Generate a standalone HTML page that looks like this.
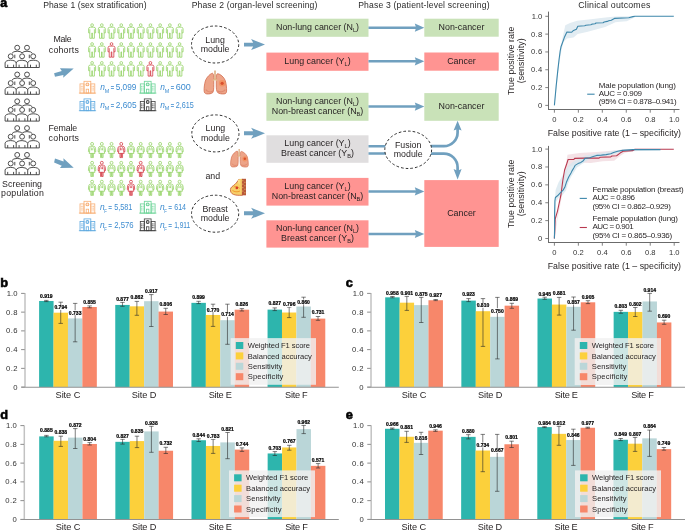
<!DOCTYPE html><html><head><meta charset="utf-8"><style>html,body{margin:0;padding:0;background:#fff;overflow:hidden}svg{display:block;will-change:transform}text{font-family:"Liberation Sans",sans-serif}</style></head><body>
<svg width="685" height="530" viewBox="0 0 685 530">
<rect width="685" height="530" fill="#fff"/>
<defs>
<symbol id="male" viewBox="0 0 8 16" overflow="visible"><g fill="none" stroke="currentColor" stroke-width="0.75" stroke-linejoin="round"><circle cx="4" cy="2.1" r="1.35"/><path d="M2.3,4.2H5.7Q7.4,4.2 7.5,5.9V9.9H6.3V15.3H4.3V10H3.7V15.3H1.7V9.9H0.5V5.9Q0.6,4.2 2.3,4.2Z"/><path d="M1.7,6.3V9.9M6.3,6.3V9.9"/></g></symbol>
<symbol id="female" viewBox="0 0 8 16" overflow="visible"><g fill="none" stroke="currentColor" stroke-width="0.75" stroke-linejoin="round"><circle cx="3.9" cy="1.9" r="1.45"/><path d="M2.3,4.3H5.5Q7.1,4.4 7.3,6.3L7.6,9.6H6.4L6.8,11.4H1.0L1.4,9.6H0.2L0.5,6.3Q0.7,4.4 2.3,4.3Z"/><path d="M1.6,6.2L1.4,9.6M6.2,6.2L6.4,9.6M2.6,5.2Q3.6,7 3.2,8.3M5.2,5.2Q4.2,7 4.6,8.3"/><path d="M2.6,11.4V15.6H3.6V11.4M4.2,11.4V15.6H5.2V11.4"/></g></symbol>
<symbol id="hosp" viewBox="0 0 17 13" overflow="visible"><g fill="none" stroke="currentColor" stroke-width="0.8"><path d="M0,12.3H17.2"/><rect x="5.1" y="0.5" width="6.8" height="11.8"/><rect x="1.1" y="3.1" width="4" height="9.2"/><rect x="11.9" y="3.1" width="4" height="9.2"/><rect x="7.3" y="8.4" width="2.4" height="3.9"/><path d="M2.4,5V10.6M3.9,5V10.6M13.2,5V10.6M14.7,5V10.6" stroke-dasharray="1.1 0.7"/></g><circle cx="8.5" cy="3.6" r="1.9" fill="currentColor"/><path d="M8.5,2.6V4.6M7.5,3.6H9.5" stroke="#fff" stroke-width="0.6"/></symbol>
<symbol id="grp" viewBox="0 0 36 24" overflow="visible"><g fill="none" stroke="#444" stroke-width="0.95" stroke-linejoin="round"><circle cx="12.7" cy="3.0" r="2.45"/><circle cx="22.5" cy="3.0" r="2.45"/><path d="M7.5,8.6Q8.6,6.6 12.7,6.5Q16.2,6.6 17.6,8.1Q19,6.6 22.5,6.5Q26.6,6.6 27.9,8.6"/><circle cx="6.2" cy="11.6" r="2.45"/><circle cx="17.6" cy="11.6" r="2.45"/><circle cx="28.7" cy="11.6" r="2.45"/><path d="M10.3,10V13.5M24.8,10V13.5"/><path d="M0.6,22.8V18.2Q1,15.6 6.2,15.5Q11,15.6 11.7,18.2Q12.3,15.6 17.6,15.5Q22.4,15.6 23.2,18.2Q23.8,15.6 28.7,15.5Q34,15.6 34.8,18.2V22.8Z"/><path d="M11.7,18.2V22.8M23.2,18.2V22.8M3.2,20V22.8M9.1,20V22.8M14.6,20V22.8M20.4,20V22.8M26,20V22.8M31.8,20V22.8"/></g></symbol>
<symbol id="thick" viewBox="0 0 21 12" overflow="visible"><path d="M0,4.05H9.2L7.1,0.5L21,6L7.1,11.5L9.2,7.95H0Z" fill="#70a0bf"/></symbol>
</defs>
<text x="0.20" y="6.80" font-size="12.5" font-weight="bold" fill="#000" stroke="#000" stroke-width="0.6">a</text>
<text x="43.20" y="7.60" font-size="8.6" fill="#2a2a2a" textLength="103.30" lengthAdjust="spacing">Phase 1 (sex stratification)</text>
<use href="#grp" x="4.5" y="44.70" width="36" height="24"/>
<use href="#grp" x="4.5" y="71.50" width="36" height="24"/>
<use href="#grp" x="4.5" y="98.30" width="36" height="24"/>
<use href="#grp" x="4.5" y="125.10" width="36" height="24"/>
<use href="#grp" x="4.5" y="151.90" width="36" height="24"/>
<text x="2.10" y="186.80" font-size="8.8" fill="#231f20" textLength="39.90" lengthAdjust="spacing">Screening</text>
<text x="1.10" y="195.60" font-size="8.8" fill="#231f20" textLength="42.80" lengthAdjust="spacing">population</text>
<text x="53.50" y="42.10" font-size="8.8" fill="#231f20" textLength="18.10" lengthAdjust="spacing">Male</text>
<text x="48.80" y="52.50" font-size="8.8" fill="#231f20" textLength="30.10" lengthAdjust="spacing">cohorts</text>
<text x="48.60" y="130.70" font-size="8.8" fill="#231f20" textLength="28.50" lengthAdjust="spacing">Female</text>
<text x="48.60" y="141.10" font-size="8.8" fill="#231f20" textLength="30.40" lengthAdjust="spacing">cohorts</text>
<path d="M54.1,73.3L61.8,71L59.9,68.2L73.7,68.4L63.2,77.8L63.4,75L55,76.8Z" fill="#70a0bf"/>
<path d="M55,158.6L63.6,161.4L63.4,158.2L73.7,167.7L59.9,168L61.8,165.7L54.1,162.4Z" fill="#70a0bf"/>
<use href="#male" x="88.10" y="23.00" width="8" height="16" color="#8fd05e"/>
<use href="#male" x="97.82" y="23.00" width="8" height="16" color="#8fd05e"/>
<use href="#male" x="107.54" y="23.00" width="8" height="16" color="#8fd05e"/>
<use href="#male" x="117.26" y="23.00" width="8" height="16" color="#8fd05e"/>
<use href="#male" x="126.98" y="23.00" width="8" height="16" color="#8fd05e"/>
<use href="#male" x="136.70" y="23.00" width="8" height="16" color="#8fd05e"/>
<use href="#male" x="146.42" y="23.00" width="8" height="16" color="#8fd05e"/>
<use href="#male" x="156.14" y="23.00" width="8" height="16" color="#8fd05e"/>
<use href="#male" x="165.86" y="23.00" width="8" height="16" color="#8fd05e"/>
<use href="#male" x="175.58" y="23.00" width="8" height="16" color="#8fd05e"/>
<use href="#male" x="88.10" y="41.90" width="8" height="16" color="#8fd05e"/>
<use href="#male" x="97.82" y="41.90" width="8" height="16" color="#8fd05e"/>
<use href="#male" x="107.54" y="41.90" width="8" height="16" color="#d2323c"/>
<use href="#male" x="117.26" y="41.90" width="8" height="16" color="#8fd05e"/>
<use href="#male" x="126.98" y="41.90" width="8" height="16" color="#8fd05e"/>
<use href="#male" x="136.70" y="41.90" width="8" height="16" color="#8fd05e"/>
<use href="#male" x="146.42" y="41.90" width="8" height="16" color="#8fd05e"/>
<use href="#male" x="156.14" y="41.90" width="8" height="16" color="#8fd05e"/>
<use href="#male" x="165.86" y="41.90" width="8" height="16" color="#8fd05e"/>
<use href="#male" x="175.58" y="41.90" width="8" height="16" color="#8fd05e"/>
<use href="#male" x="88.10" y="60.80" width="8" height="16" color="#8fd05e"/>
<use href="#male" x="97.82" y="60.80" width="8" height="16" color="#8fd05e"/>
<use href="#male" x="107.54" y="60.80" width="8" height="16" color="#8fd05e"/>
<use href="#male" x="117.26" y="60.80" width="8" height="16" color="#8fd05e"/>
<use href="#male" x="126.98" y="60.80" width="8" height="16" color="#8fd05e"/>
<use href="#male" x="136.70" y="60.80" width="8" height="16" color="#8fd05e"/>
<use href="#male" x="146.42" y="60.80" width="8" height="16" color="#d2323c"/>
<use href="#male" x="156.14" y="60.80" width="8" height="16" color="#8fd05e"/>
<use href="#male" x="165.86" y="60.80" width="8" height="16" color="#8fd05e"/>
<use href="#male" x="175.58" y="60.80" width="8" height="16" color="#8fd05e"/>
<use href="#female" x="88.20" y="142.00" width="8" height="16" color="#8fd05e"/>
<use href="#female" x="97.92" y="142.00" width="8" height="16" color="#8fd05e"/>
<use href="#female" x="107.64" y="142.00" width="8" height="16" color="#8fd05e"/>
<use href="#female" x="117.36" y="142.00" width="8" height="16" color="#d2323c"/>
<use href="#female" x="127.08" y="142.00" width="8" height="16" color="#8fd05e"/>
<use href="#female" x="136.80" y="142.00" width="8" height="16" color="#8fd05e"/>
<use href="#female" x="146.52" y="142.00" width="8" height="16" color="#8fd05e"/>
<use href="#female" x="156.24" y="142.00" width="8" height="16" color="#8fd05e"/>
<use href="#female" x="165.96" y="142.00" width="8" height="16" color="#8fd05e"/>
<use href="#female" x="175.68" y="142.00" width="8" height="16" color="#8fd05e"/>
<use href="#female" x="88.20" y="160.90" width="8" height="16" color="#8fd05e"/>
<use href="#female" x="97.92" y="160.90" width="8" height="16" color="#d2323c"/>
<use href="#female" x="107.64" y="160.90" width="8" height="16" color="#8fd05e"/>
<use href="#female" x="117.36" y="160.90" width="8" height="16" color="#8fd05e"/>
<use href="#female" x="127.08" y="160.90" width="8" height="16" color="#8fd05e"/>
<use href="#female" x="136.80" y="160.90" width="8" height="16" color="#d2323c"/>
<use href="#female" x="146.52" y="160.90" width="8" height="16" color="#8fd05e"/>
<use href="#female" x="156.24" y="160.90" width="8" height="16" color="#8fd05e"/>
<use href="#female" x="165.96" y="160.90" width="8" height="16" color="#8fd05e"/>
<use href="#female" x="175.68" y="160.90" width="8" height="16" color="#8fd05e"/>
<use href="#female" x="88.20" y="179.80" width="8" height="16" color="#8fd05e"/>
<use href="#female" x="97.92" y="179.80" width="8" height="16" color="#8fd05e"/>
<use href="#female" x="107.64" y="179.80" width="8" height="16" color="#8fd05e"/>
<use href="#female" x="117.36" y="179.80" width="8" height="16" color="#8fd05e"/>
<use href="#female" x="127.08" y="179.80" width="8" height="16" color="#d2323c"/>
<use href="#female" x="136.80" y="179.80" width="8" height="16" color="#8fd05e"/>
<use href="#female" x="146.52" y="179.80" width="8" height="16" color="#8fd05e"/>
<use href="#female" x="156.24" y="179.80" width="8" height="16" color="#8fd05e"/>
<use href="#female" x="165.96" y="179.80" width="8" height="16" color="#8fd05e"/>
<use href="#female" x="175.68" y="179.80" width="8" height="16" color="#8fd05e"/>
<use href="#hosp" x="78.9" y="80.80" width="17" height="13" color="#f8ae74"/>
<text x="100.20" y="90.30" font-size="8.4" fill="#3d8cd0" font-style="italic">n</text>
<text x="104.70" y="92.50" font-size="5.4" fill="#3d8cd0">M</text>
<text x="110.80" y="90.00" font-size="8" fill="#3d8cd0" textLength="3.3" lengthAdjust="spacingAndGlyphs" stroke="#3d8cd0" stroke-width="0.25">=</text>
<text x="115.70" y="90.30" font-size="8.2" fill="#3d8cd0" textLength="20.70" lengthAdjust="spacingAndGlyphs">5,099</text>
<use href="#hosp" x="139.2" y="80.80" width="17" height="13" color="#6ad396"/>
<text x="160.20" y="90.30" font-size="8.4" fill="#3d8cd0" font-style="italic">n</text>
<text x="164.70" y="92.50" font-size="5.4" fill="#3d8cd0">M</text>
<text x="170.80" y="90.00" font-size="8" fill="#3d8cd0" textLength="3.3" lengthAdjust="spacingAndGlyphs" stroke="#3d8cd0" stroke-width="0.25">=</text>
<text x="175.70" y="90.30" font-size="8.2" fill="#3d8cd0" textLength="15.10" lengthAdjust="spacingAndGlyphs">600</text>
<use href="#hosp" x="78.9" y="98.40" width="17" height="13" color="#62abe0"/>
<text x="100.20" y="107.90" font-size="8.4" fill="#3d8cd0" font-style="italic">n</text>
<text x="104.70" y="110.10" font-size="5.4" fill="#3d8cd0">M</text>
<text x="110.80" y="107.60" font-size="8" fill="#3d8cd0" textLength="3.3" lengthAdjust="spacingAndGlyphs" stroke="#3d8cd0" stroke-width="0.25">=</text>
<text x="115.70" y="107.90" font-size="8.2" fill="#3d8cd0" textLength="20.90" lengthAdjust="spacingAndGlyphs">2,605</text>
<use href="#hosp" x="139.2" y="98.40" width="17" height="13" color="#404040"/>
<text x="160.20" y="107.90" font-size="8.4" fill="#3d8cd0" font-style="italic">n</text>
<text x="164.70" y="110.10" font-size="5.4" fill="#3d8cd0">M</text>
<text x="170.80" y="107.60" font-size="8" fill="#3d8cd0" textLength="3.3" lengthAdjust="spacingAndGlyphs" stroke="#3d8cd0" stroke-width="0.25">=</text>
<text x="175.70" y="107.90" font-size="8.2" fill="#3d8cd0" textLength="18.10" lengthAdjust="spacingAndGlyphs">2,615</text>
<use href="#hosp" x="78.9" y="200.80" width="17" height="13" color="#f8ae74"/>
<text x="100.00" y="210.30" font-size="8.4" fill="#3d8cd0" font-style="italic">n</text>
<text x="104.20" y="213.10" font-size="5.4" fill="#3d8cd0" textLength="2.6" lengthAdjust="spacingAndGlyphs">F</text>
<text x="108.60" y="210.00" font-size="8" fill="#3d8cd0" textLength="3.3" lengthAdjust="spacingAndGlyphs" stroke="#3d8cd0" stroke-width="0.25">=</text>
<text x="114.20" y="210.30" font-size="8.2" fill="#3d8cd0" textLength="18.20" lengthAdjust="spacingAndGlyphs">5,581</text>
<use href="#hosp" x="139.2" y="200.80" width="17" height="13" color="#6ad396"/>
<text x="160.00" y="210.30" font-size="8.4" fill="#3d8cd0" font-style="italic">n</text>
<text x="164.20" y="213.10" font-size="5.4" fill="#3d8cd0" textLength="2.6" lengthAdjust="spacingAndGlyphs">F</text>
<text x="168.60" y="210.00" font-size="8" fill="#3d8cd0" textLength="3.3" lengthAdjust="spacingAndGlyphs" stroke="#3d8cd0" stroke-width="0.25">=</text>
<text x="174.20" y="210.30" font-size="8.2" fill="#3d8cd0" textLength="11.90" lengthAdjust="spacingAndGlyphs">614</text>
<use href="#hosp" x="78.9" y="218.40" width="17" height="13" color="#62abe0"/>
<text x="100.00" y="227.90" font-size="8.4" fill="#3d8cd0" font-style="italic">n</text>
<text x="104.20" y="230.70" font-size="5.4" fill="#3d8cd0" textLength="2.6" lengthAdjust="spacingAndGlyphs">F</text>
<text x="108.60" y="227.60" font-size="8" fill="#3d8cd0" textLength="3.3" lengthAdjust="spacingAndGlyphs" stroke="#3d8cd0" stroke-width="0.25">=</text>
<text x="114.20" y="227.90" font-size="8.2" fill="#3d8cd0" textLength="19.40" lengthAdjust="spacingAndGlyphs">2,576</text>
<use href="#hosp" x="139.2" y="218.40" width="17" height="13" color="#404040"/>
<text x="160.00" y="227.90" font-size="8.4" fill="#3d8cd0" font-style="italic">n</text>
<text x="164.20" y="230.70" font-size="5.4" fill="#3d8cd0" textLength="2.6" lengthAdjust="spacingAndGlyphs">F</text>
<text x="168.60" y="227.60" font-size="8" fill="#3d8cd0" textLength="3.3" lengthAdjust="spacingAndGlyphs" stroke="#3d8cd0" stroke-width="0.25">=</text>
<text x="174.20" y="227.90" font-size="8.2" fill="#3d8cd0" textLength="16.00" lengthAdjust="spacingAndGlyphs">1,911</text>
<text x="191.70" y="7.60" font-size="8.6" fill="#2a2a2a" textLength="125.70" lengthAdjust="spacing">Phase 2 (organ-level screening)</text>
<ellipse cx="215.1" cy="44.5" rx="23.6" ry="18.5" fill="none" stroke="#222" stroke-width="0.95" stroke-dasharray="2.6 2.1"/>
<text x="215.10" y="42.50" font-size="8.8" text-anchor="middle" fill="#231f20">Lung</text>
<text x="215.10" y="52.20" font-size="8.8" text-anchor="middle" fill="#231f20">module</text>
<ellipse cx="215.4" cy="133.4" rx="23.6" ry="18.5" fill="none" stroke="#222" stroke-width="0.95" stroke-dasharray="2.6 2.1"/>
<text x="215.40" y="131.40" font-size="8.8" text-anchor="middle" fill="#231f20">Lung</text>
<text x="215.40" y="141.10" font-size="8.8" text-anchor="middle" fill="#231f20">module</text>
<ellipse cx="215.1" cy="213.7" rx="23.6" ry="18.5" fill="none" stroke="#222" stroke-width="0.95" stroke-dasharray="2.6 2.1"/>
<text x="215.10" y="211.70" font-size="8.8" text-anchor="middle" fill="#231f20">Breast</text>
<text x="215.10" y="221.40" font-size="8.8" text-anchor="middle" fill="#231f20">module</text>
<text x="212.80" y="178.80" font-size="8.8" text-anchor="middle" fill="#231f20">and</text>
<use href="#thick" x="244.0" y="38.60" width="21" height="12"/>
<use href="#thick" x="244.0" y="127.30" width="21" height="12"/>
<use href="#thick" x="244.0" y="207.30" width="21" height="12"/>
<rect x="266.4" y="18.7" width="102.1" height="18.10" fill="#c9e2b8"/>
<text x="317.5" y="30.05" font-size="8.9" fill="#231f20" text-anchor="middle">Non-lung cancer (N<tspan font-size="5.6" dy="1.8">L</tspan><tspan dy="-1.8">)</tspan></text>
<rect x="266.4" y="52.6" width="102.1" height="18.20" fill="#ff9492"/>
<text x="317.5" y="64.00" font-size="8.9" fill="#231f20" text-anchor="middle">Lung cancer (Y<tspan font-size="5.6" dy="1.8">L</tspan><tspan dy="-1.8">)</tspan></text>
<rect x="266.4" y="92.8" width="102.1" height="28.00" fill="#c9e2b8"/>
<text x="317.5" y="103.80" font-size="8.9" fill="#231f20" text-anchor="middle">Non-lung cancer (N<tspan font-size="5.6" dy="1.8">L</tspan><tspan dy="-1.8">)</tspan></text>
<text x="317.5" y="113.90" font-size="8.9" fill="#231f20" text-anchor="middle">Non-breast cancer (N<tspan font-size="5.6" dy="1.8">B</tspan><tspan dy="-1.8">)</tspan></text>
<rect x="266.4" y="135.3" width="102.1" height="27.50" fill="#e0dedf"/>
<text x="317.5" y="146.05" font-size="8.9" fill="#231f20" text-anchor="middle">Lung cancer (Y<tspan font-size="5.6" dy="1.8">L</tspan><tspan dy="-1.8">)</tspan></text>
<text x="317.5" y="156.15" font-size="8.9" fill="#231f20" text-anchor="middle">Breast cancer (Y<tspan font-size="5.6" dy="1.8">B</tspan><tspan dy="-1.8">)</tspan></text>
<rect x="266.4" y="177.9" width="102.1" height="27.70" fill="#ff9492"/>
<text x="317.5" y="188.75" font-size="8.9" fill="#231f20" text-anchor="middle">Lung cancer (Y<tspan font-size="5.6" dy="1.8">L</tspan><tspan dy="-1.8">)</tspan></text>
<text x="317.5" y="198.85" font-size="8.9" fill="#231f20" text-anchor="middle">Non-breast cancer (N<tspan font-size="5.6" dy="1.8">B</tspan><tspan dy="-1.8">)</tspan></text>
<rect x="266.4" y="220.3" width="102.1" height="27.30" fill="#ff9492"/>
<text x="317.5" y="230.95" font-size="8.9" fill="#231f20" text-anchor="middle">Non-lung cancer (N<tspan font-size="5.6" dy="1.8">L</tspan><tspan dy="-1.8">)</tspan></text>
<text x="317.5" y="241.05" font-size="8.9" fill="#231f20" text-anchor="middle">Breast cancer (Y<tspan font-size="5.6" dy="1.8">B</tspan><tspan dy="-1.8">)</tspan></text>
<text x="358.20" y="7.60" font-size="8.6" fill="#2a2a2a" textLength="131.30" lengthAdjust="spacing">Phase 3 (patient-level screening)</text>
<path d="M368.5,27.7H416.3" stroke="#70a0bf" stroke-width="2.5" fill="none"/>
<path d="M424.3,27.7L414.8,23.6L416.1,27.7L414.8,31.799999999999997Z" fill="#70a0bf"/>
<path d="M368.5,61.3H416.3" stroke="#70a0bf" stroke-width="2.5" fill="none"/>
<path d="M424.3,61.3L414.8,57.199999999999996L416.1,61.3L414.8,65.39999999999999Z" fill="#70a0bf"/>
<path d="M368.5,106.6H416.3" stroke="#70a0bf" stroke-width="2.5" fill="none"/>
<path d="M424.3,106.6L414.8,102.5L416.1,106.6L414.8,110.69999999999999Z" fill="#70a0bf"/>
<path d="M368.5,191.4H416.3" stroke="#70a0bf" stroke-width="2.5" fill="none"/>
<path d="M424.3,191.4L414.8,187.3L416.1,191.4L414.8,195.5Z" fill="#70a0bf"/>
<path d="M368.5,234.0H416.3" stroke="#70a0bf" stroke-width="2.5" fill="none"/>
<path d="M424.3,234.0L414.8,229.9L416.1,234.0L414.8,238.1Z" fill="#70a0bf"/>
<path d="M368.5,146.2H386M368.5,153.4H386" stroke="#70a0bf" stroke-width="2.5" fill="none"/>
<path d="M430,146.1H443.9A13.7,13.7 0 0 0 457.6,132.4V129" stroke="#70a0bf" stroke-width="2.7" fill="none"/>
<path d="M457.6,120.8L461.6,130.6L457.6,129.1L453.6,130.6Z" fill="#70a0bf"/>
<path d="M430,153.6H443.9A13.7,13.7 0 0 1 457.6,167.3V171" stroke="#70a0bf" stroke-width="2.7" fill="none"/>
<path d="M457.6,179.6L461.6,169.1L457.6,170.8L453.6,169.1Z" fill="#70a0bf"/>
<ellipse cx="408.2" cy="149.8" rx="23.4" ry="18.7" fill="#fff" stroke="#222" stroke-width="0.95" stroke-dasharray="2.6 2.1"/>
<text x="408.20" y="147.70" font-size="8.8" text-anchor="middle" fill="#231f20">Fusion</text>
<text x="408.20" y="157.20" font-size="8.8" text-anchor="middle" fill="#231f20">module</text>
<rect x="424.3" y="18.7" width="74.4" height="18.00" fill="#c9e2b8"/>
<text x="461.50" y="30.10" font-size="8.9" text-anchor="middle" fill="#231f20">Non-cancer</text>
<rect x="424.3" y="52.5" width="74.4" height="18.20" fill="#ff9492"/>
<text x="461.50" y="64.00" font-size="8.9" text-anchor="middle" fill="#231f20">Cancer</text>
<rect x="424.3" y="93.1" width="74.4" height="27.70" fill="#c9e2b8"/>
<text x="461.50" y="109.35" font-size="8.9" text-anchor="middle" fill="#231f20">Non-cancer</text>
<rect x="424.3" y="180.1" width="74.4" height="66.80" fill="#ff9492"/>
<text x="461.50" y="215.90" font-size="8.9" text-anchor="middle" fill="#231f20">Cancer</text>
<g transform="translate(204.0,70.4) scale(0.2270,0.2350)">
<path d="M37,12C28,14 12,28 6,45C2,58 0,75 0.5,86C1,95 4,99 12,100C22,101 32,99 38,95C42,90 43,80 43,60L43,30C43,20 41,13 37,12Z" fill="#eda488" stroke="#d26e50" stroke-width="3.5"/>
<path d="M61,14C72,16 88,28 94,44C98,58 100,75 99.5,88C99,96 96,100 88,100C78,101 66,99 60,94C55,88 54,78 54,58L54,30C54,20 56,14 61,14Z" fill="#eda488" stroke="#d26e50" stroke-width="3.5"/>
<path d="M8,82C16,92 30,94 40,88M60,88C70,94 86,92 94,82" fill="none" stroke="#e08a70" stroke-width="5"/>
<path d="M48.5,0V36M48.5,34L40,44M48.5,34L57,44" fill="none" stroke="#e2b588" stroke-width="7"/>
<path d="M46,4H51M46,12H51M46,20H51M46,28H51" stroke="#c99a6c" stroke-width="1.5"/>
<circle cx="80" cy="55" r="14" fill="#f3905e" fill-opacity="0.85"/><circle cx="80" cy="55" r="7" fill="#d9502e"/>
</g>
<g transform="translate(230.5,148.9) scale(0.1790,0.1810)">
<path d="M37,12C28,14 12,28 6,45C2,58 0,75 0.5,86C1,95 4,99 12,100C22,101 32,99 38,95C42,90 43,80 43,60L43,30C43,20 41,13 37,12Z" fill="#eda488" stroke="#d26e50" stroke-width="3.5"/>
<path d="M61,14C72,16 88,28 94,44C98,58 100,75 99.5,88C99,96 96,100 88,100C78,101 66,99 60,94C55,88 54,78 54,58L54,30C54,20 56,14 61,14Z" fill="#eda488" stroke="#d26e50" stroke-width="3.5"/>
<path d="M8,82C16,92 30,94 40,88M60,88C70,94 86,92 94,82" fill="none" stroke="#e08a70" stroke-width="5"/>
<path d="M48.5,0V36M48.5,34L40,44M48.5,34L57,44" fill="none" stroke="#e2b588" stroke-width="7"/>
<path d="M46,4H51M46,12H51M46,20H51M46,28H51" stroke="#c99a6c" stroke-width="1.5"/>
<circle cx="80" cy="55" r="14" fill="#f3905e" fill-opacity="0.85"/><circle cx="80" cy="55" r="7" fill="#d9502e"/>
</g>
<g transform="translate(230.2,178.8) scale(0.1580,0.1650)">
<path d="M57,1C52,8 46,16 38,26C28,38 12,44 4,56C-1,66 1,82 12,90C22,97 40,100 57,100L78,100L78,0Z" fill="#f7cf6a"/>
<path d="M57,1C52,8 46,16 38,26C28,38 12,44 4,56C-1,66 1,82 12,90C22,97 40,100 57,100L78,100" fill="none" stroke="#cf7048" stroke-width="6"/>
<path d="M50,6C48,20 52,30 60,36L60,4Z" fill="#fbe48a"/>
<path d="M14,70C26,80 46,82 62,74M22,50C34,44 48,48 60,58" fill="none" stroke="#f09a30" stroke-width="6"/>
<rect x="74" y="0" width="26" height="100" fill="#b8583a"/>
<path d="M80,8V92" stroke="#f2cc66" stroke-width="5" stroke-dasharray="7 14"/><path d="M93,18V96" stroke="#f2cc66" stroke-width="5" stroke-dasharray="7 14"/>
<circle cx="42" cy="55" r="8.5" fill="#d63e28"/>
</g>
<text x="614.30" y="7.60" font-size="8.8" text-anchor="middle" fill="#2a2a2a" textLength="72.20" lengthAdjust="spacing">Clinical outcomes</text>
<line x1="548.5" y1="11.6" x2="548.5" y2="109.5" stroke="#6b6b6b" stroke-width="1"/>
<line x1="548.0" y1="109.5" x2="679.5" y2="109.5" stroke="#6b6b6b" stroke-width="1"/>
<line x1="545.3" y1="105.40" x2="548.5" y2="105.40" stroke="#6b6b6b" stroke-width="0.85"/>
<text x="542.30" y="107.90" font-size="7.6" text-anchor="end" fill="#333" textLength="4.90" lengthAdjust="spacing">0</text>
<line x1="554.40" y1="109.5" x2="554.40" y2="112.7" stroke="#6b6b6b" stroke-width="0.85"/>
<text x="554.40" y="122.10" font-size="7.6" text-anchor="middle" fill="#333" textLength="4.60" lengthAdjust="spacing">0</text>
<line x1="545.3" y1="87.58" x2="548.5" y2="87.58" stroke="#6b6b6b" stroke-width="0.85"/>
<text x="542.30" y="90.08" font-size="7.6" text-anchor="end" fill="#333" textLength="11.40" lengthAdjust="spacing">0.2</text>
<line x1="578.36" y1="109.5" x2="578.36" y2="112.7" stroke="#6b6b6b" stroke-width="0.85"/>
<text x="578.36" y="122.10" font-size="7.6" text-anchor="middle" fill="#333" textLength="10.60" lengthAdjust="spacing">0.2</text>
<line x1="545.3" y1="69.76" x2="548.5" y2="69.76" stroke="#6b6b6b" stroke-width="0.85"/>
<text x="542.30" y="72.26" font-size="7.6" text-anchor="end" fill="#333" textLength="11.40" lengthAdjust="spacing">0.4</text>
<line x1="602.32" y1="109.5" x2="602.32" y2="112.7" stroke="#6b6b6b" stroke-width="0.85"/>
<text x="602.32" y="122.10" font-size="7.6" text-anchor="middle" fill="#333" textLength="10.60" lengthAdjust="spacing">0.4</text>
<line x1="545.3" y1="51.94" x2="548.5" y2="51.94" stroke="#6b6b6b" stroke-width="0.85"/>
<text x="542.30" y="54.44" font-size="7.6" text-anchor="end" fill="#333" textLength="11.40" lengthAdjust="spacing">0.6</text>
<line x1="626.28" y1="109.5" x2="626.28" y2="112.7" stroke="#6b6b6b" stroke-width="0.85"/>
<text x="626.28" y="122.10" font-size="7.6" text-anchor="middle" fill="#333" textLength="10.60" lengthAdjust="spacing">0.6</text>
<line x1="545.3" y1="34.12" x2="548.5" y2="34.12" stroke="#6b6b6b" stroke-width="0.85"/>
<text x="542.30" y="36.62" font-size="7.6" text-anchor="end" fill="#333" textLength="11.40" lengthAdjust="spacing">0.8</text>
<line x1="650.24" y1="109.5" x2="650.24" y2="112.7" stroke="#6b6b6b" stroke-width="0.85"/>
<text x="650.24" y="122.10" font-size="7.6" text-anchor="middle" fill="#333" textLength="10.60" lengthAdjust="spacing">0.8</text>
<line x1="545.3" y1="16.30" x2="548.5" y2="16.30" stroke="#6b6b6b" stroke-width="0.85"/>
<text x="542.30" y="18.80" font-size="7.6" text-anchor="end" fill="#333" textLength="10.60" lengthAdjust="spacing">1.0</text>
<line x1="674.20" y1="109.5" x2="674.20" y2="112.7" stroke="#6b6b6b" stroke-width="0.85"/>
<text x="674.20" y="122.10" font-size="7.6" text-anchor="middle" fill="#333" textLength="10.60" lengthAdjust="spacing">1.0</text>
<text x="547.70" y="135.90" font-size="8.8" fill="#231f20" textLength="133.30" lengthAdjust="spacing">False positive rate (1 – specificity)</text>
<text transform="translate(513.5,60.85) rotate(-90)" x="0" y="0" font-size="8.8" fill="#231f20" text-anchor="middle" textLength="68.4" lengthAdjust="spacing">True positive rate</text>
<text transform="translate(523.7,60.85) rotate(-90)" x="0" y="0" font-size="8.8" fill="#231f20" text-anchor="middle" textLength="45" lengthAdjust="spacing">(sensitivity)</text>
<polygon points="554.20,105.10 555.50,88.00 557.00,74.00 558.50,62.00 560.50,48.00 562.50,38.00 565.30,25.30 570.00,23.00 577.10,20.70 590.90,19.20 603.10,17.70 615.40,16.60 628.00,16.20 635.00,16.20 635.00,17.20 626.70,21.30 620.00,21.80 615.40,22.30 612.30,23.80 605.20,26.90 596.00,29.40 586.80,32.00 577.60,34.00 573.50,37.60 566.90,38.60 563.50,42.00 561.50,50.00 559.50,62.00 558.00,74.00 556.60,88.00 554.60,105.10" fill="#e2ecf2"/>
<polyline points="554.40,105.40 556.20,85.70 557.70,71.40 559.00,60.00 560.20,50.90 561.00,46.80 562.30,43.20 564.30,37.60 566.90,32.00 571.50,32.30 573.50,30.40 576.40,29.20 577.80,26.30 584.70,25.80 585.80,25.30 590.90,24.80 591.90,24.10 595.00,23.80 596.00,23.00 603.10,22.80 604.20,22.00 607.20,21.40 608.80,20.70 611.30,20.20 614.40,18.40 628.80,17.80 632.90,16.60 634.90,16.20 673.80,16.20" fill="none" stroke="#3d87ab" stroke-width="1.1" stroke-linejoin="round"/>
<line x1="587.2" y1="94.2" x2="594.6" y2="94.2" stroke="#3d87ab" stroke-width="1.1"/>
<text x="598.80" y="88.00" font-size="8.0" fill="#231f20" textLength="77.00" lengthAdjust="spacing">Male population (lung)</text>
<text x="598.80" y="96.30" font-size="8.0" fill="#231f20" textLength="43.20" lengthAdjust="spacing">AUC = 0.909</text>
<text x="598.80" y="104.30" font-size="8.0" fill="#231f20" textLength="77.80" lengthAdjust="spacing">(95% CI = 0.878–0.941)</text>
<line x1="548.5" y1="145.9" x2="548.5" y2="242.5" stroke="#6b6b6b" stroke-width="1"/>
<line x1="548.0" y1="242.5" x2="679.5" y2="242.5" stroke="#6b6b6b" stroke-width="1"/>
<line x1="545.3" y1="238.50" x2="548.5" y2="238.50" stroke="#6b6b6b" stroke-width="0.85"/>
<text x="542.30" y="241.00" font-size="7.6" text-anchor="end" fill="#333" textLength="4.90" lengthAdjust="spacing">0</text>
<line x1="554.40" y1="242.5" x2="554.40" y2="245.7" stroke="#6b6b6b" stroke-width="0.85"/>
<text x="554.40" y="255.10" font-size="7.6" text-anchor="middle" fill="#333" textLength="4.60" lengthAdjust="spacing">0</text>
<line x1="545.3" y1="220.62" x2="548.5" y2="220.62" stroke="#6b6b6b" stroke-width="0.85"/>
<text x="542.30" y="223.12" font-size="7.6" text-anchor="end" fill="#333" textLength="11.40" lengthAdjust="spacing">0.2</text>
<line x1="578.36" y1="242.5" x2="578.36" y2="245.7" stroke="#6b6b6b" stroke-width="0.85"/>
<text x="578.36" y="255.10" font-size="7.6" text-anchor="middle" fill="#333" textLength="10.60" lengthAdjust="spacing">0.2</text>
<line x1="545.3" y1="202.74" x2="548.5" y2="202.74" stroke="#6b6b6b" stroke-width="0.85"/>
<text x="542.30" y="205.24" font-size="7.6" text-anchor="end" fill="#333" textLength="11.40" lengthAdjust="spacing">0.4</text>
<line x1="602.32" y1="242.5" x2="602.32" y2="245.7" stroke="#6b6b6b" stroke-width="0.85"/>
<text x="602.32" y="255.10" font-size="7.6" text-anchor="middle" fill="#333" textLength="10.60" lengthAdjust="spacing">0.4</text>
<line x1="545.3" y1="184.86" x2="548.5" y2="184.86" stroke="#6b6b6b" stroke-width="0.85"/>
<text x="542.30" y="187.36" font-size="7.6" text-anchor="end" fill="#333" textLength="11.40" lengthAdjust="spacing">0.6</text>
<line x1="626.28" y1="242.5" x2="626.28" y2="245.7" stroke="#6b6b6b" stroke-width="0.85"/>
<text x="626.28" y="255.10" font-size="7.6" text-anchor="middle" fill="#333" textLength="10.60" lengthAdjust="spacing">0.6</text>
<line x1="545.3" y1="166.98" x2="548.5" y2="166.98" stroke="#6b6b6b" stroke-width="0.85"/>
<text x="542.30" y="169.48" font-size="7.6" text-anchor="end" fill="#333" textLength="11.40" lengthAdjust="spacing">0.8</text>
<line x1="650.24" y1="242.5" x2="650.24" y2="245.7" stroke="#6b6b6b" stroke-width="0.85"/>
<text x="650.24" y="255.10" font-size="7.6" text-anchor="middle" fill="#333" textLength="10.60" lengthAdjust="spacing">0.8</text>
<line x1="545.3" y1="149.10" x2="548.5" y2="149.10" stroke="#6b6b6b" stroke-width="0.85"/>
<text x="542.30" y="151.60" font-size="7.6" text-anchor="end" fill="#333" textLength="10.60" lengthAdjust="spacing">1.0</text>
<line x1="674.20" y1="242.5" x2="674.20" y2="245.7" stroke="#6b6b6b" stroke-width="0.85"/>
<text x="674.20" y="255.10" font-size="7.6" text-anchor="middle" fill="#333" textLength="10.60" lengthAdjust="spacing">1.0</text>
<text x="547.70" y="268.90" font-size="8.8" fill="#231f20" textLength="133.30" lengthAdjust="spacing">False positive rate (1 – specificity)</text>
<text transform="translate(513.5,193.80) rotate(-90)" x="0" y="0" font-size="8.8" fill="#231f20" text-anchor="middle" textLength="68.4" lengthAdjust="spacing">True positive rate</text>
<text transform="translate(523.7,193.80) rotate(-90)" x="0" y="0" font-size="8.8" fill="#231f20" text-anchor="middle" textLength="45" lengthAdjust="spacing">(sensitivity)</text>
<polygon points="555.00,230.00 558.00,212.00 561.00,196.00 564.00,176.00 567.50,154.80 579.20,153.10 596.70,151.90 620.00,149.90 626.00,149.00 636.00,149.00 636.00,150.00 624.70,153.10 620.00,156.00 614.20,160.70 602.60,161.30 590.90,163.00 579.20,162.40 568.70,167.10 566.00,175.00 563.00,190.00 560.00,206.00 557.00,222.00 555.00,236.00" fill="#f2dde2" fill-opacity="0.85"/>
<polygon points="554.30,236.00 554.40,212.00 555.60,190.00 558.50,182.50 562.00,176.50 565.50,170.50 568.50,165.50 573.40,161.50 580.00,158.50 585.00,155.40 600.00,153.00 615.00,150.50 625.00,149.30 660.00,149.20 660.00,150.20 625.00,151.50 610.00,155.00 596.00,157.50 588.00,160.00 582.00,164.00 577.00,167.50 574.50,171.50 571.00,177.00 568.00,183.50 566.00,190.50 562.50,195.00 558.50,198.00 556.00,202.00 555.00,236.00" fill="#d8e7ef" fill-opacity="0.8"/>
<polyline points="554.40,238.50 555.20,219.00 557.50,211.10 559.20,203.10 560.90,195.20 562.80,180.50 564.60,170.00 566.40,164.80 568.10,159.50 573.90,159.50 574.50,158.40 585.00,158.10 599.00,158.10 600.20,157.20 610.70,156.90 611.90,156.00 616.60,155.80 620.10,153.10 623.60,151.10 632.90,150.60 634.90,149.20 673.80,149.20" fill="none" stroke="#b8394f" stroke-width="1.1" stroke-linejoin="round"/>
<polyline points="554.40,238.50 554.60,228.00 554.60,213.30 554.90,200.90 555.40,197.50 557.50,195.80 560.30,192.90 563.10,190.10 564.80,187.30 566.40,182.30 568.70,177.00 571.00,172.90 572.20,170.60 573.90,167.70 575.10,165.40 578.00,163.60 580.90,162.40 583.30,160.70 585.00,158.40 589.70,157.80 593.20,156.60 596.70,155.40 601.40,155.10 606.10,154.60 610.70,153.70 613.60,152.50 617.70,151.30 622.40,150.40 632.90,149.60 660.50,149.60" fill="none" stroke="#3d87ab" stroke-width="1.1" stroke-linejoin="round"/>
<line x1="579.7" y1="198.4" x2="586.9" y2="198.4" stroke="#3d87ab" stroke-width="1.1"/>
<line x1="579.7" y1="227.5" x2="586.9" y2="227.5" stroke="#b8394f" stroke-width="1.1"/>
<text x="592.40" y="192.20" font-size="8.0" fill="#231f20" textLength="91.20" lengthAdjust="spacing">Female population (breast)</text>
<text x="592.40" y="200.20" font-size="8.0" fill="#231f20" textLength="42.60" lengthAdjust="spacing">AUC = 0.896</text>
<text x="592.40" y="208.50" font-size="8.0" fill="#231f20" textLength="78.40" lengthAdjust="spacing">(95% CI = 0.862–0.929)</text>
<text x="592.40" y="221.20" font-size="8.0" fill="#231f20" textLength="85.60" lengthAdjust="spacing">Female population (lung)</text>
<text x="592.40" y="229.20" font-size="8.0" fill="#231f20" textLength="41.20" lengthAdjust="spacing">AUC = 0.901</text>
<text x="592.40" y="237.50" font-size="8.0" fill="#231f20" textLength="79.80" lengthAdjust="spacing">(95% CI = 0.865–0.936)</text>
<line x1="25.00" y1="293.10" x2="25.00" y2="387.10" stroke="#c2c2c2" stroke-width="1.5"/>
<line x1="21.10" y1="387.10" x2="24.70" y2="387.10" stroke="#808080" stroke-width="0.9"/>
<text x="17.50" y="389.60" font-size="7.7" text-anchor="end" fill="#333" textLength="4.90" lengthAdjust="spacing">0</text>
<line x1="21.10" y1="368.36" x2="24.70" y2="368.36" stroke="#808080" stroke-width="0.9"/>
<text x="17.50" y="370.86" font-size="7.7" text-anchor="end" fill="#333" textLength="11.60" lengthAdjust="spacing">0.2</text>
<line x1="21.10" y1="349.62" x2="24.70" y2="349.62" stroke="#808080" stroke-width="0.9"/>
<text x="17.50" y="352.12" font-size="7.7" text-anchor="end" fill="#333" textLength="11.60" lengthAdjust="spacing">0.4</text>
<line x1="21.10" y1="330.88" x2="24.70" y2="330.88" stroke="#808080" stroke-width="0.9"/>
<text x="17.50" y="333.38" font-size="7.7" text-anchor="end" fill="#333" textLength="11.60" lengthAdjust="spacing">0.6</text>
<line x1="21.10" y1="312.14" x2="24.70" y2="312.14" stroke="#808080" stroke-width="0.9"/>
<text x="17.50" y="314.64" font-size="7.7" text-anchor="end" fill="#333" textLength="11.60" lengthAdjust="spacing">0.8</text>
<line x1="21.10" y1="293.40" x2="24.70" y2="293.40" stroke="#808080" stroke-width="0.9"/>
<text x="17.50" y="295.90" font-size="7.7" text-anchor="end" fill="#333" textLength="10.80" lengthAdjust="spacing">1.0</text>
<rect x="39.10" y="300.99" width="14.47" height="86.11" fill="#2db5ad"/>
<rect x="53.52" y="312.70" width="14.47" height="74.40" fill="#fcd03b"/>
<rect x="67.94" y="318.42" width="14.47" height="68.68" fill="#bad6d8"/>
<rect x="82.36" y="306.99" width="14.47" height="80.11" fill="#f7876a"/>
<rect x="115.25" y="304.93" width="14.47" height="82.17" fill="#2db5ad"/>
<rect x="129.67" y="306.33" width="14.47" height="80.77" fill="#fcd03b"/>
<rect x="144.09" y="301.18" width="14.47" height="85.92" fill="#bad6d8"/>
<rect x="158.51" y="311.58" width="14.47" height="75.52" fill="#f7876a"/>
<rect x="191.40" y="302.86" width="14.47" height="84.24" fill="#2db5ad"/>
<rect x="205.82" y="314.95" width="14.47" height="72.15" fill="#fcd03b"/>
<rect x="220.24" y="320.20" width="14.47" height="66.90" fill="#bad6d8"/>
<rect x="234.66" y="309.70" width="14.47" height="77.40" fill="#f7876a"/>
<rect x="267.55" y="309.61" width="14.47" height="77.49" fill="#2db5ad"/>
<rect x="281.97" y="312.51" width="14.47" height="74.59" fill="#fcd03b"/>
<rect x="296.39" y="306.52" width="14.47" height="80.58" fill="#bad6d8"/>
<rect x="310.81" y="318.61" width="14.47" height="68.49" fill="#f7876a"/>
<path d="M44.11,300.40H48.51M46.31,300.40V301.60M44.11,301.60H48.51" stroke="#2a2a2a" stroke-opacity="0.8" stroke-width="0.75" fill="none"/>
<path d="M58.53,302.20H62.93M60.73,302.20V323.40M58.53,323.40H62.93" stroke="#2a2a2a" stroke-opacity="0.8" stroke-width="0.75" fill="none"/>
<path d="M72.95,303.40H77.35M75.15,303.40V341.80M72.95,341.80H77.35" stroke="#2a2a2a" stroke-opacity="0.8" stroke-width="0.75" fill="none"/>
<path d="M87.37,305.90H91.77M89.57,305.90V307.80M87.37,307.80H91.77" stroke="#2a2a2a" stroke-opacity="0.8" stroke-width="0.75" fill="none"/>
<path d="M120.26,302.40H124.66M122.46,302.40V306.30M120.26,306.30H124.66" stroke="#2a2a2a" stroke-opacity="0.8" stroke-width="0.75" fill="none"/>
<path d="M134.68,301.40H139.08M136.88,301.40V315.30M134.68,315.30H139.08" stroke="#2a2a2a" stroke-opacity="0.8" stroke-width="0.75" fill="none"/>
<path d="M149.10,294.60H153.50M151.30,294.60V326.50M149.10,326.50H153.50" stroke="#2a2a2a" stroke-opacity="0.8" stroke-width="0.75" fill="none"/>
<path d="M163.52,308.30H167.92M165.72,308.30V314.50M163.52,314.50H167.92" stroke="#2a2a2a" stroke-opacity="0.8" stroke-width="0.75" fill="none"/>
<path d="M196.41,301.30H200.81M198.61,301.30V303.60M196.41,303.60H200.81" stroke="#2a2a2a" stroke-opacity="0.8" stroke-width="0.75" fill="none"/>
<path d="M210.83,304.20H215.23M213.03,304.20V326.40M210.83,326.40H215.23" stroke="#2a2a2a" stroke-opacity="0.8" stroke-width="0.75" fill="none"/>
<path d="M225.25,304.20H229.65M227.45,304.20V344.30M225.25,344.30H229.65" stroke="#2a2a2a" stroke-opacity="0.8" stroke-width="0.75" fill="none"/>
<path d="M239.67,308.60H244.07M241.87,308.60V311.00M239.67,311.00H244.07" stroke="#2a2a2a" stroke-opacity="0.8" stroke-width="0.75" fill="none"/>
<path d="M272.56,307.90H276.96M274.76,307.90V310.60M272.56,310.60H276.96" stroke="#2a2a2a" stroke-opacity="0.8" stroke-width="0.75" fill="none"/>
<path d="M286.98,307.10H291.38M289.18,307.10V317.60M286.98,317.60H291.38" stroke="#2a2a2a" stroke-opacity="0.8" stroke-width="0.75" fill="none"/>
<path d="M301.40,297.20H305.80M303.60,297.20V317.30M301.40,317.30H305.80" stroke="#2a2a2a" stroke-opacity="0.8" stroke-width="0.75" fill="none"/>
<path d="M315.82,316.50H320.22M318.02,316.50V320.30M315.82,320.30H320.22" stroke="#2a2a2a" stroke-opacity="0.8" stroke-width="0.75" fill="none"/>
<rect x="39.71" y="293.40" width="13.20" height="4.8" fill="#fff"/>
<text x="46.31" y="297.75" font-size="5.5" text-anchor="middle" font-weight="bold" fill="#000" textLength="12.60" lengthAdjust="spacingAndGlyphs" stroke="#000" stroke-width="0.22">0.919</text>
<rect x="54.13" y="305.10" width="13.20" height="4.8" fill="#fff"/>
<text x="60.73" y="309.45" font-size="5.5" text-anchor="middle" font-weight="bold" fill="#000" textLength="12.60" lengthAdjust="spacingAndGlyphs" stroke="#000" stroke-width="0.22">0.794</text>
<rect x="68.55" y="310.30" width="13.20" height="4.8" fill="#fff"/>
<text x="75.15" y="314.65" font-size="5.5" text-anchor="middle" font-weight="bold" fill="#000" textLength="12.60" lengthAdjust="spacingAndGlyphs" stroke="#000" stroke-width="0.22">0.733</text>
<rect x="82.97" y="299.40" width="13.20" height="4.8" fill="#fff"/>
<text x="89.57" y="303.75" font-size="5.5" text-anchor="middle" font-weight="bold" fill="#000" textLength="12.60" lengthAdjust="spacingAndGlyphs" stroke="#000" stroke-width="0.22">0.855</text>
<rect x="115.86" y="296.30" width="13.20" height="4.8" fill="#fff"/>
<text x="122.46" y="300.65" font-size="5.5" text-anchor="middle" font-weight="bold" fill="#000" textLength="12.60" lengthAdjust="spacingAndGlyphs" stroke="#000" stroke-width="0.22">0.877</text>
<rect x="130.28" y="295.10" width="13.20" height="4.8" fill="#fff"/>
<text x="136.88" y="299.45" font-size="5.5" text-anchor="middle" font-weight="bold" fill="#000" textLength="12.60" lengthAdjust="spacingAndGlyphs" stroke="#000" stroke-width="0.22">0.862</text>
<rect x="144.70" y="288.60" width="13.20" height="4.8" fill="#fff"/>
<text x="151.30" y="292.95" font-size="5.5" text-anchor="middle" font-weight="bold" fill="#000" textLength="12.60" lengthAdjust="spacingAndGlyphs" stroke="#000" stroke-width="0.22">0.917</text>
<rect x="159.12" y="301.90" width="13.20" height="4.8" fill="#fff"/>
<text x="165.72" y="306.25" font-size="5.5" text-anchor="middle" font-weight="bold" fill="#000" textLength="12.60" lengthAdjust="spacingAndGlyphs" stroke="#000" stroke-width="0.22">0.806</text>
<rect x="192.01" y="294.80" width="13.20" height="4.8" fill="#fff"/>
<text x="198.61" y="299.15" font-size="5.5" text-anchor="middle" font-weight="bold" fill="#000" textLength="12.60" lengthAdjust="spacingAndGlyphs" stroke="#000" stroke-width="0.22">0.899</text>
<rect x="206.43" y="307.30" width="13.20" height="4.8" fill="#fff"/>
<text x="213.03" y="311.65" font-size="5.5" text-anchor="middle" font-weight="bold" fill="#000" textLength="12.60" lengthAdjust="spacingAndGlyphs" stroke="#000" stroke-width="0.22">0.770</text>
<rect x="220.85" y="312.10" width="13.20" height="4.8" fill="#fff"/>
<text x="227.45" y="316.45" font-size="5.5" text-anchor="middle" font-weight="bold" fill="#000" textLength="12.60" lengthAdjust="spacingAndGlyphs" stroke="#000" stroke-width="0.22">0.714</text>
<rect x="235.27" y="301.60" width="13.20" height="4.8" fill="#fff"/>
<text x="241.87" y="305.95" font-size="5.5" text-anchor="middle" font-weight="bold" fill="#000" textLength="12.60" lengthAdjust="spacingAndGlyphs" stroke="#000" stroke-width="0.22">0.826</text>
<rect x="268.16" y="301.00" width="13.20" height="4.8" fill="#fff"/>
<text x="274.76" y="305.35" font-size="5.5" text-anchor="middle" font-weight="bold" fill="#000" textLength="12.60" lengthAdjust="spacingAndGlyphs" stroke="#000" stroke-width="0.22">0.827</text>
<rect x="282.58" y="302.10" width="13.20" height="4.8" fill="#fff"/>
<text x="289.18" y="306.45" font-size="5.5" text-anchor="middle" font-weight="bold" fill="#000" textLength="12.60" lengthAdjust="spacingAndGlyphs" stroke="#000" stroke-width="0.22">0.796</text>
<rect x="297.00" y="299.50" width="13.20" height="4.8" fill="#fff"/>
<text x="303.60" y="303.85" font-size="5.5" text-anchor="middle" font-weight="bold" fill="#000" textLength="12.60" lengthAdjust="spacingAndGlyphs" stroke="#000" stroke-width="0.22">0.860</text>
<rect x="311.42" y="309.70" width="13.20" height="4.8" fill="#fff"/>
<text x="318.02" y="314.05" font-size="5.5" text-anchor="middle" font-weight="bold" fill="#000" textLength="12.60" lengthAdjust="spacingAndGlyphs" stroke="#000" stroke-width="0.22">0.731</text>
<line x1="21.40" y1="387.20" x2="338.80" y2="387.20" stroke="#929292" stroke-width="1.05"/>
<text x="55.54" y="397.90" font-size="9.2" fill="#231f20" textLength="24.80" lengthAdjust="spacing">Site C</text>
<text x="131.84" y="397.90" font-size="9.2" fill="#231f20" textLength="24.50" lengthAdjust="spacing">Site D</text>
<text x="208.64" y="397.90" font-size="9.2" fill="#231f20" textLength="23.20" lengthAdjust="spacing">Site E</text>
<text x="285.04" y="397.90" font-size="9.2" fill="#231f20" textLength="22.70" lengthAdjust="spacing">Site F</text>
<rect x="230.7" y="338.1" width="85.30000000000001" height="46.69999999999999" fill="#f0f0f0" fill-opacity="0.82"/>
<rect x="235.80" y="342.00" width="7.5" height="7" fill="#2db5ad"/>
<text x="247.80" y="348.10" font-size="7.6" fill="#231f20" textLength="62.20" lengthAdjust="spacing">Weighted F1 score</text>
<rect x="235.80" y="352.40" width="7.5" height="7" fill="#fcd03b"/>
<text x="247.80" y="358.50" font-size="7.6" fill="#231f20" textLength="64.00" lengthAdjust="spacing">Balanced accuracy</text>
<rect x="235.80" y="362.80" width="7.5" height="7" fill="#bad6d8"/>
<text x="247.80" y="368.90" font-size="7.6" fill="#231f20" textLength="34.50" lengthAdjust="spacing">Sensitivity</text>
<rect x="235.80" y="373.20" width="7.5" height="7" fill="#f7876a"/>
<text x="247.80" y="379.30" font-size="7.6" fill="#231f20" textLength="35.50" lengthAdjust="spacing">Specificity</text>
<text x="0.20" y="286.60" font-size="12.8" font-weight="bold" fill="#000" stroke="#000" stroke-width="0.6">b</text>
<line x1="371.00" y1="293.10" x2="371.00" y2="387.10" stroke="#c2c2c2" stroke-width="1.5"/>
<line x1="367.10" y1="387.10" x2="370.70" y2="387.10" stroke="#808080" stroke-width="0.9"/>
<text x="363.50" y="389.60" font-size="7.7" text-anchor="end" fill="#333" textLength="4.90" lengthAdjust="spacing">0</text>
<line x1="367.10" y1="368.36" x2="370.70" y2="368.36" stroke="#808080" stroke-width="0.9"/>
<text x="363.50" y="370.86" font-size="7.7" text-anchor="end" fill="#333" textLength="11.60" lengthAdjust="spacing">0.2</text>
<line x1="367.10" y1="349.62" x2="370.70" y2="349.62" stroke="#808080" stroke-width="0.9"/>
<text x="363.50" y="352.12" font-size="7.7" text-anchor="end" fill="#333" textLength="11.60" lengthAdjust="spacing">0.4</text>
<line x1="367.10" y1="330.88" x2="370.70" y2="330.88" stroke="#808080" stroke-width="0.9"/>
<text x="363.50" y="333.38" font-size="7.7" text-anchor="end" fill="#333" textLength="11.60" lengthAdjust="spacing">0.6</text>
<line x1="367.10" y1="312.14" x2="370.70" y2="312.14" stroke="#808080" stroke-width="0.9"/>
<text x="363.50" y="314.64" font-size="7.7" text-anchor="end" fill="#333" textLength="11.60" lengthAdjust="spacing">0.8</text>
<line x1="367.10" y1="293.40" x2="370.70" y2="293.40" stroke="#808080" stroke-width="0.9"/>
<text x="363.50" y="295.90" font-size="7.7" text-anchor="end" fill="#333" textLength="10.80" lengthAdjust="spacing">1.0</text>
<rect x="385.20" y="297.34" width="14.47" height="89.76" fill="#2db5ad"/>
<rect x="399.62" y="302.68" width="14.47" height="84.42" fill="#fcd03b"/>
<rect x="414.04" y="305.11" width="14.47" height="81.99" fill="#bad6d8"/>
<rect x="428.46" y="300.24" width="14.47" height="86.86" fill="#f7876a"/>
<rect x="461.35" y="300.61" width="14.47" height="86.49" fill="#2db5ad"/>
<rect x="475.77" y="311.20" width="14.47" height="75.90" fill="#fcd03b"/>
<rect x="490.19" y="316.83" width="14.47" height="70.27" fill="#bad6d8"/>
<rect x="504.61" y="305.67" width="14.47" height="81.43" fill="#f7876a"/>
<rect x="537.50" y="298.55" width="14.47" height="88.55" fill="#2db5ad"/>
<rect x="551.92" y="304.55" width="14.47" height="82.55" fill="#fcd03b"/>
<rect x="566.34" y="306.80" width="14.47" height="80.30" fill="#bad6d8"/>
<rect x="580.76" y="302.30" width="14.47" height="84.80" fill="#f7876a"/>
<rect x="613.65" y="311.86" width="14.47" height="75.24" fill="#2db5ad"/>
<rect x="628.07" y="311.95" width="14.47" height="75.15" fill="#fcd03b"/>
<rect x="642.49" y="301.46" width="14.47" height="85.64" fill="#bad6d8"/>
<rect x="656.91" y="322.45" width="14.47" height="64.65" fill="#f7876a"/>
<path d="M390.21,296.50H394.61M392.41,296.50V297.80M390.21,297.80H394.61" stroke="#2a2a2a" stroke-opacity="0.8" stroke-width="0.75" fill="none"/>
<path d="M404.63,296.40H409.03M406.83,296.40V310.40M404.63,310.40H409.03" stroke="#2a2a2a" stroke-opacity="0.8" stroke-width="0.75" fill="none"/>
<path d="M419.05,297.40H423.45M421.25,297.40V322.50M419.05,322.50H423.45" stroke="#2a2a2a" stroke-opacity="0.8" stroke-width="0.75" fill="none"/>
<path d="M433.47,299.50H437.87M435.67,299.50V300.60M433.47,300.60H437.87" stroke="#2a2a2a" stroke-opacity="0.8" stroke-width="0.75" fill="none"/>
<path d="M466.36,298.60H470.76M468.56,298.60V301.60M466.36,301.60H470.76" stroke="#2a2a2a" stroke-opacity="0.8" stroke-width="0.75" fill="none"/>
<path d="M480.78,298.60H485.18M482.98,298.60V346.40M480.78,346.40H485.18" stroke="#2a2a2a" stroke-opacity="0.8" stroke-width="0.75" fill="none"/>
<path d="M495.20,297.40H499.60M497.40,297.40V358.90M495.20,358.90H499.60" stroke="#2a2a2a" stroke-opacity="0.8" stroke-width="0.75" fill="none"/>
<path d="M509.62,303.30H514.02M511.82,303.30V308.30M509.62,308.30H514.02" stroke="#2a2a2a" stroke-opacity="0.8" stroke-width="0.75" fill="none"/>
<path d="M542.51,297.20H546.91M544.71,297.20V299.30M542.51,299.30H546.91" stroke="#2a2a2a" stroke-opacity="0.8" stroke-width="0.75" fill="none"/>
<path d="M556.93,297.40H561.33M559.13,297.40V315.10M556.93,315.10H561.33" stroke="#2a2a2a" stroke-opacity="0.8" stroke-width="0.75" fill="none"/>
<path d="M571.35,297.00H575.75M573.55,297.00V330.20M571.35,330.20H575.75" stroke="#2a2a2a" stroke-opacity="0.8" stroke-width="0.75" fill="none"/>
<path d="M585.77,300.70H590.17M587.97,300.70V303.60M585.77,303.60H590.17" stroke="#2a2a2a" stroke-opacity="0.8" stroke-width="0.75" fill="none"/>
<path d="M618.66,310.30H623.06M620.86,310.30V313.30M618.66,313.30H623.06" stroke="#2a2a2a" stroke-opacity="0.8" stroke-width="0.75" fill="none"/>
<path d="M633.08,307.50H637.48M635.28,307.50V316.50M633.08,316.50H637.48" stroke="#2a2a2a" stroke-opacity="0.8" stroke-width="0.75" fill="none"/>
<path d="M647.50,293.40H651.90M649.70,293.40V311.20M647.50,311.20H651.90" stroke="#2a2a2a" stroke-opacity="0.8" stroke-width="0.75" fill="none"/>
<path d="M661.92,320.20H666.32M664.12,320.20V324.30M661.92,324.30H666.32" stroke="#2a2a2a" stroke-opacity="0.8" stroke-width="0.75" fill="none"/>
<rect x="385.81" y="290.50" width="13.20" height="4.8" fill="#fff"/>
<text x="392.41" y="294.85" font-size="5.5" text-anchor="middle" font-weight="bold" fill="#000" textLength="12.60" lengthAdjust="spacingAndGlyphs" stroke="#000" stroke-width="0.22">0.958</text>
<rect x="400.23" y="290.50" width="13.20" height="4.8" fill="#fff"/>
<text x="406.83" y="294.85" font-size="5.5" text-anchor="middle" font-weight="bold" fill="#000" textLength="12.60" lengthAdjust="spacingAndGlyphs" stroke="#000" stroke-width="0.22">0.901</text>
<rect x="414.65" y="291.30" width="13.20" height="4.8" fill="#fff"/>
<text x="421.25" y="295.65" font-size="5.5" text-anchor="middle" font-weight="bold" fill="#000" textLength="12.60" lengthAdjust="spacingAndGlyphs" stroke="#000" stroke-width="0.22">0.875</text>
<rect x="429.07" y="292.50" width="13.20" height="4.8" fill="#fff"/>
<text x="435.67" y="296.85" font-size="5.5" text-anchor="middle" font-weight="bold" fill="#000" textLength="12.60" lengthAdjust="spacingAndGlyphs" stroke="#000" stroke-width="0.22">0.927</text>
<rect x="461.96" y="291.90" width="13.20" height="4.8" fill="#fff"/>
<text x="468.56" y="296.25" font-size="5.5" text-anchor="middle" font-weight="bold" fill="#000" textLength="12.60" lengthAdjust="spacingAndGlyphs" stroke="#000" stroke-width="0.22">0.923</text>
<rect x="476.38" y="303.00" width="13.20" height="4.8" fill="#fff"/>
<text x="482.98" y="307.35" font-size="5.5" text-anchor="middle" font-weight="bold" fill="#000" textLength="12.60" lengthAdjust="spacingAndGlyphs" stroke="#000" stroke-width="0.22">0.810</text>
<rect x="490.80" y="308.20" width="13.20" height="4.8" fill="#fff"/>
<text x="497.40" y="312.55" font-size="5.5" text-anchor="middle" font-weight="bold" fill="#000" textLength="12.60" lengthAdjust="spacingAndGlyphs" stroke="#000" stroke-width="0.22">0.750</text>
<rect x="505.22" y="296.30" width="13.20" height="4.8" fill="#fff"/>
<text x="511.82" y="300.65" font-size="5.5" text-anchor="middle" font-weight="bold" fill="#000" textLength="12.60" lengthAdjust="spacingAndGlyphs" stroke="#000" stroke-width="0.22">0.869</text>
<rect x="538.11" y="291.30" width="13.20" height="4.8" fill="#fff"/>
<text x="544.71" y="295.65" font-size="5.5" text-anchor="middle" font-weight="bold" fill="#000" textLength="12.60" lengthAdjust="spacingAndGlyphs" stroke="#000" stroke-width="0.22">0.945</text>
<rect x="552.53" y="290.70" width="13.20" height="4.8" fill="#fff"/>
<text x="559.13" y="295.05" font-size="5.5" text-anchor="middle" font-weight="bold" fill="#000" textLength="12.60" lengthAdjust="spacingAndGlyphs" stroke="#000" stroke-width="0.22">0.881</text>
<rect x="566.95" y="299.70" width="13.20" height="4.8" fill="#fff"/>
<text x="573.55" y="304.05" font-size="5.5" text-anchor="middle" font-weight="bold" fill="#000" textLength="12.60" lengthAdjust="spacingAndGlyphs" stroke="#000" stroke-width="0.22">0.857</text>
<rect x="581.37" y="294.20" width="13.20" height="4.8" fill="#fff"/>
<text x="587.97" y="298.55" font-size="5.5" text-anchor="middle" font-weight="bold" fill="#000" textLength="12.60" lengthAdjust="spacingAndGlyphs" stroke="#000" stroke-width="0.22">0.905</text>
<rect x="614.26" y="303.60" width="13.20" height="4.8" fill="#fff"/>
<text x="620.86" y="307.95" font-size="5.5" text-anchor="middle" font-weight="bold" fill="#000" textLength="12.60" lengthAdjust="spacingAndGlyphs" stroke="#000" stroke-width="0.22">0.803</text>
<rect x="628.68" y="301.80" width="13.20" height="4.8" fill="#fff"/>
<text x="635.28" y="306.15" font-size="5.5" text-anchor="middle" font-weight="bold" fill="#000" textLength="12.60" lengthAdjust="spacingAndGlyphs" stroke="#000" stroke-width="0.22">0.802</text>
<rect x="643.10" y="287.20" width="13.20" height="4.8" fill="#fff"/>
<text x="649.70" y="291.55" font-size="5.5" text-anchor="middle" font-weight="bold" fill="#000" textLength="12.60" lengthAdjust="spacingAndGlyphs" stroke="#000" stroke-width="0.22">0.914</text>
<rect x="657.52" y="313.80" width="13.20" height="4.8" fill="#fff"/>
<text x="664.12" y="318.15" font-size="5.5" text-anchor="middle" font-weight="bold" fill="#000" textLength="12.60" lengthAdjust="spacingAndGlyphs" stroke="#000" stroke-width="0.22">0.690</text>
<line x1="367.40" y1="387.20" x2="685.00" y2="387.20" stroke="#929292" stroke-width="1.05"/>
<text x="401.64" y="397.90" font-size="9.2" fill="#231f20" textLength="24.80" lengthAdjust="spacing">Site C</text>
<text x="477.94" y="397.90" font-size="9.2" fill="#231f20" textLength="24.50" lengthAdjust="spacing">Site D</text>
<text x="554.74" y="397.90" font-size="9.2" fill="#231f20" textLength="23.20" lengthAdjust="spacing">Site E</text>
<text x="631.14" y="397.90" font-size="9.2" fill="#231f20" textLength="22.70" lengthAdjust="spacing">Site F</text>
<rect x="574.7" y="338.1" width="86.29999999999995" height="46.89999999999998" fill="#f0f0f0" fill-opacity="0.82"/>
<rect x="579.80" y="342.00" width="7.5" height="7" fill="#2db5ad"/>
<text x="591.80" y="348.10" font-size="7.6" fill="#231f20" textLength="62.20" lengthAdjust="spacing">Weighted F1 score</text>
<rect x="579.80" y="352.40" width="7.5" height="7" fill="#fcd03b"/>
<text x="591.80" y="358.50" font-size="7.6" fill="#231f20" textLength="64.00" lengthAdjust="spacing">Balanced accuracy</text>
<rect x="579.80" y="362.80" width="7.5" height="7" fill="#bad6d8"/>
<text x="591.80" y="368.90" font-size="7.6" fill="#231f20" textLength="34.50" lengthAdjust="spacing">Sensitivity</text>
<rect x="579.80" y="373.20" width="7.5" height="7" fill="#f7876a"/>
<text x="591.80" y="379.30" font-size="7.6" fill="#231f20" textLength="35.50" lengthAdjust="spacing">Specificity</text>
<text x="345.70" y="286.60" font-size="12.8" font-weight="bold" fill="#000" stroke="#000" stroke-width="0.6">c</text>
<line x1="24.30" y1="425.30" x2="24.30" y2="519.40" stroke="#c2c2c2" stroke-width="1.5"/>
<line x1="20.40" y1="519.40" x2="24.00" y2="519.40" stroke="#808080" stroke-width="0.9"/>
<text x="16.80" y="521.90" font-size="7.7" text-anchor="end" fill="#333" textLength="4.90" lengthAdjust="spacing">0</text>
<line x1="20.40" y1="500.64" x2="24.00" y2="500.64" stroke="#808080" stroke-width="0.9"/>
<text x="16.80" y="503.14" font-size="7.7" text-anchor="end" fill="#333" textLength="11.60" lengthAdjust="spacing">0.2</text>
<line x1="20.40" y1="481.88" x2="24.00" y2="481.88" stroke="#808080" stroke-width="0.9"/>
<text x="16.80" y="484.38" font-size="7.7" text-anchor="end" fill="#333" textLength="11.60" lengthAdjust="spacing">0.4</text>
<line x1="20.40" y1="463.12" x2="24.00" y2="463.12" stroke="#808080" stroke-width="0.9"/>
<text x="16.80" y="465.62" font-size="7.7" text-anchor="end" fill="#333" textLength="11.60" lengthAdjust="spacing">0.6</text>
<line x1="20.40" y1="444.36" x2="24.00" y2="444.36" stroke="#808080" stroke-width="0.9"/>
<text x="16.80" y="446.86" font-size="7.7" text-anchor="end" fill="#333" textLength="11.60" lengthAdjust="spacing">0.8</text>
<line x1="20.40" y1="425.60" x2="24.00" y2="425.60" stroke="#808080" stroke-width="0.9"/>
<text x="16.80" y="428.10" font-size="7.7" text-anchor="end" fill="#333" textLength="10.80" lengthAdjust="spacing">1.0</text>
<rect x="39.20" y="436.39" width="14.47" height="83.01" fill="#2db5ad"/>
<rect x="53.62" y="440.80" width="14.47" height="78.60" fill="#fcd03b"/>
<rect x="68.04" y="437.61" width="14.47" height="81.79" fill="#bad6d8"/>
<rect x="82.46" y="443.98" width="14.47" height="75.42" fill="#f7876a"/>
<rect x="115.35" y="441.83" width="14.47" height="77.57" fill="#2db5ad"/>
<rect x="129.77" y="441.08" width="14.47" height="78.32" fill="#fcd03b"/>
<rect x="144.19" y="431.42" width="14.47" height="87.98" fill="#bad6d8"/>
<rect x="158.61" y="450.74" width="14.47" height="68.66" fill="#f7876a"/>
<rect x="191.50" y="440.23" width="14.47" height="79.17" fill="#2db5ad"/>
<rect x="205.92" y="445.95" width="14.47" height="73.45" fill="#fcd03b"/>
<rect x="220.34" y="442.39" width="14.47" height="77.01" fill="#bad6d8"/>
<rect x="234.76" y="449.61" width="14.47" height="69.79" fill="#f7876a"/>
<rect x="267.65" y="453.46" width="14.47" height="65.94" fill="#2db5ad"/>
<rect x="282.07" y="447.46" width="14.47" height="71.94" fill="#fcd03b"/>
<rect x="296.49" y="429.16" width="14.47" height="90.24" fill="#bad6d8"/>
<rect x="310.91" y="465.84" width="14.47" height="53.56" fill="#f7876a"/>
<path d="M44.21,435.40H48.61M46.41,435.40V436.80M44.21,436.80H48.61" stroke="#2a2a2a" stroke-opacity="0.8" stroke-width="0.75" fill="none"/>
<path d="M58.63,436.20H63.03M60.83,436.20V446.40M58.63,446.40H63.03" stroke="#2a2a2a" stroke-opacity="0.8" stroke-width="0.75" fill="none"/>
<path d="M73.05,428.60H77.45M75.25,428.60V448.50M73.05,448.50H77.45" stroke="#2a2a2a" stroke-opacity="0.8" stroke-width="0.75" fill="none"/>
<path d="M87.47,442.60H91.87M89.67,442.60V445.00M87.47,445.00H91.87" stroke="#2a2a2a" stroke-opacity="0.8" stroke-width="0.75" fill="none"/>
<path d="M120.36,439.30H124.76M122.56,439.30V444.10M120.36,444.10H124.76" stroke="#2a2a2a" stroke-opacity="0.8" stroke-width="0.75" fill="none"/>
<path d="M134.78,436.20H139.18M136.98,436.20V447.60M134.78,447.60H139.18" stroke="#2a2a2a" stroke-opacity="0.8" stroke-width="0.75" fill="none"/>
<path d="M149.20,426.30H153.60M151.40,426.30V452.30M149.20,452.30H153.60" stroke="#2a2a2a" stroke-opacity="0.8" stroke-width="0.75" fill="none"/>
<path d="M163.62,447.30H168.02M165.82,447.30V453.50M163.62,453.50H168.02" stroke="#2a2a2a" stroke-opacity="0.8" stroke-width="0.75" fill="none"/>
<path d="M196.51,438.80H200.91M198.71,438.80V441.50M196.51,441.50H200.91" stroke="#2a2a2a" stroke-opacity="0.8" stroke-width="0.75" fill="none"/>
<path d="M210.93,439.30H215.33M213.13,439.30V453.40M210.93,453.40H215.33" stroke="#2a2a2a" stroke-opacity="0.8" stroke-width="0.75" fill="none"/>
<path d="M225.35,432.50H229.75M227.55,432.50V458.70M225.35,458.70H229.75" stroke="#2a2a2a" stroke-opacity="0.8" stroke-width="0.75" fill="none"/>
<path d="M239.77,447.90H244.17M241.97,447.90V451.40M239.77,451.40H244.17" stroke="#2a2a2a" stroke-opacity="0.8" stroke-width="0.75" fill="none"/>
<path d="M272.66,451.60H277.06M274.86,451.60V455.50M272.66,455.50H277.06" stroke="#2a2a2a" stroke-opacity="0.8" stroke-width="0.75" fill="none"/>
<path d="M287.08,445.30H291.48M289.28,445.30V450.20M287.08,450.20H291.48" stroke="#2a2a2a" stroke-opacity="0.8" stroke-width="0.75" fill="none"/>
<path d="M301.50,425.40H305.90M303.70,425.40V433.60M301.50,433.60H305.90" stroke="#2a2a2a" stroke-opacity="0.8" stroke-width="0.75" fill="none"/>
<path d="M315.92,463.60H320.32M318.12,463.60V468.00M315.92,468.00H320.32" stroke="#2a2a2a" stroke-opacity="0.8" stroke-width="0.75" fill="none"/>
<rect x="39.81" y="427.40" width="13.20" height="4.8" fill="#fff"/>
<text x="46.41" y="431.75" font-size="5.5" text-anchor="middle" font-weight="bold" fill="#000" textLength="12.60" lengthAdjust="spacingAndGlyphs" stroke="#000" stroke-width="0.22">0.885</text>
<rect x="54.23" y="430.10" width="13.20" height="4.8" fill="#fff"/>
<text x="60.83" y="434.45" font-size="5.5" text-anchor="middle" font-weight="bold" fill="#000" textLength="12.60" lengthAdjust="spacingAndGlyphs" stroke="#000" stroke-width="0.22">0.838</text>
<rect x="68.65" y="423.00" width="13.20" height="4.8" fill="#fff"/>
<text x="75.25" y="427.35" font-size="5.5" text-anchor="middle" font-weight="bold" fill="#000" textLength="12.60" lengthAdjust="spacingAndGlyphs" stroke="#000" stroke-width="0.22">0.872</text>
<rect x="83.07" y="436.40" width="13.20" height="4.8" fill="#fff"/>
<text x="89.67" y="440.75" font-size="5.5" text-anchor="middle" font-weight="bold" fill="#000" textLength="12.60" lengthAdjust="spacingAndGlyphs" stroke="#000" stroke-width="0.22">0.804</text>
<rect x="115.96" y="433.80" width="13.20" height="4.8" fill="#fff"/>
<text x="122.56" y="438.15" font-size="5.5" text-anchor="middle" font-weight="bold" fill="#000" textLength="12.60" lengthAdjust="spacingAndGlyphs" stroke="#000" stroke-width="0.22">0.827</text>
<rect x="130.38" y="428.30" width="13.20" height="4.8" fill="#fff"/>
<text x="136.98" y="432.65" font-size="5.5" text-anchor="middle" font-weight="bold" fill="#000" textLength="12.60" lengthAdjust="spacingAndGlyphs" stroke="#000" stroke-width="0.22">0.835</text>
<rect x="144.80" y="420.40" width="13.20" height="4.8" fill="#fff"/>
<text x="151.40" y="424.75" font-size="5.5" text-anchor="middle" font-weight="bold" fill="#000" textLength="12.60" lengthAdjust="spacingAndGlyphs" stroke="#000" stroke-width="0.22">0.938</text>
<rect x="159.22" y="440.20" width="13.20" height="4.8" fill="#fff"/>
<text x="165.82" y="444.55" font-size="5.5" text-anchor="middle" font-weight="bold" fill="#000" textLength="12.60" lengthAdjust="spacingAndGlyphs" stroke="#000" stroke-width="0.22">0.732</text>
<rect x="192.11" y="432.30" width="13.20" height="4.8" fill="#fff"/>
<text x="198.71" y="436.65" font-size="5.5" text-anchor="middle" font-weight="bold" fill="#000" textLength="12.60" lengthAdjust="spacingAndGlyphs" stroke="#000" stroke-width="0.22">0.844</text>
<rect x="206.53" y="434.10" width="13.20" height="4.8" fill="#fff"/>
<text x="213.13" y="438.45" font-size="5.5" text-anchor="middle" font-weight="bold" fill="#000" textLength="12.60" lengthAdjust="spacingAndGlyphs" stroke="#000" stroke-width="0.22">0.783</text>
<rect x="220.95" y="426.80" width="13.20" height="4.8" fill="#fff"/>
<text x="227.55" y="431.15" font-size="5.5" text-anchor="middle" font-weight="bold" fill="#000" textLength="12.60" lengthAdjust="spacingAndGlyphs" stroke="#000" stroke-width="0.22">0.821</text>
<rect x="235.37" y="441.40" width="13.20" height="4.8" fill="#fff"/>
<text x="241.97" y="445.75" font-size="5.5" text-anchor="middle" font-weight="bold" fill="#000" textLength="12.60" lengthAdjust="spacingAndGlyphs" stroke="#000" stroke-width="0.22">0.744</text>
<rect x="268.26" y="445.50" width="13.20" height="4.8" fill="#fff"/>
<text x="274.86" y="449.85" font-size="5.5" text-anchor="middle" font-weight="bold" fill="#000" textLength="12.60" lengthAdjust="spacingAndGlyphs" stroke="#000" stroke-width="0.22">0.703</text>
<rect x="282.68" y="438.50" width="13.20" height="4.8" fill="#fff"/>
<text x="289.28" y="442.85" font-size="5.5" text-anchor="middle" font-weight="bold" fill="#000" textLength="12.60" lengthAdjust="spacingAndGlyphs" stroke="#000" stroke-width="0.22">0.767</text>
<rect x="297.10" y="419.50" width="13.20" height="4.8" fill="#fff"/>
<text x="303.70" y="423.85" font-size="5.5" text-anchor="middle" font-weight="bold" fill="#000" textLength="12.60" lengthAdjust="spacingAndGlyphs" stroke="#000" stroke-width="0.22">0.962</text>
<rect x="311.52" y="457.70" width="13.20" height="4.8" fill="#fff"/>
<text x="318.12" y="462.05" font-size="5.5" text-anchor="middle" font-weight="bold" fill="#000" textLength="12.60" lengthAdjust="spacingAndGlyphs" stroke="#000" stroke-width="0.22">0.571</text>
<line x1="20.70" y1="519.50" x2="338.80" y2="519.50" stroke="#929292" stroke-width="1.05"/>
<text x="55.64" y="529.90" font-size="9.2" fill="#231f20" textLength="24.80" lengthAdjust="spacing">Site C</text>
<text x="131.94" y="529.90" font-size="9.2" fill="#231f20" textLength="24.50" lengthAdjust="spacing">Site D</text>
<text x="208.74" y="529.90" font-size="9.2" fill="#231f20" textLength="23.20" lengthAdjust="spacing">Site E</text>
<text x="285.14" y="529.90" font-size="9.2" fill="#231f20" textLength="22.70" lengthAdjust="spacing">Site F</text>
<rect x="229.0" y="470.4" width="86.0" height="46.700000000000045" fill="#f0f0f0" fill-opacity="0.82"/>
<rect x="234.10" y="474.30" width="7.5" height="7" fill="#2db5ad"/>
<text x="246.10" y="480.40" font-size="7.6" fill="#231f20" textLength="62.20" lengthAdjust="spacing">Weighted F1 score</text>
<rect x="234.10" y="484.70" width="7.5" height="7" fill="#fcd03b"/>
<text x="246.10" y="490.80" font-size="7.6" fill="#231f20" textLength="64.00" lengthAdjust="spacing">Balanced accuracy</text>
<rect x="234.10" y="495.10" width="7.5" height="7" fill="#bad6d8"/>
<text x="246.10" y="501.20" font-size="7.6" fill="#231f20" textLength="34.50" lengthAdjust="spacing">Sensitivity</text>
<rect x="234.10" y="505.50" width="7.5" height="7" fill="#f7876a"/>
<text x="246.10" y="511.60" font-size="7.6" fill="#231f20" textLength="35.50" lengthAdjust="spacing">Specificity</text>
<text x="0.20" y="419.30" font-size="12.8" font-weight="bold" fill="#000" stroke="#000" stroke-width="0.6">d</text>
<line x1="371.20" y1="425.30" x2="371.20" y2="519.40" stroke="#c2c2c2" stroke-width="1.5"/>
<line x1="367.30" y1="519.40" x2="370.90" y2="519.40" stroke="#808080" stroke-width="0.9"/>
<text x="363.70" y="521.90" font-size="7.7" text-anchor="end" fill="#333" textLength="4.90" lengthAdjust="spacing">0</text>
<line x1="367.30" y1="500.64" x2="370.90" y2="500.64" stroke="#808080" stroke-width="0.9"/>
<text x="363.70" y="503.14" font-size="7.7" text-anchor="end" fill="#333" textLength="11.60" lengthAdjust="spacing">0.2</text>
<line x1="367.30" y1="481.88" x2="370.90" y2="481.88" stroke="#808080" stroke-width="0.9"/>
<text x="363.70" y="484.38" font-size="7.7" text-anchor="end" fill="#333" textLength="11.60" lengthAdjust="spacing">0.4</text>
<line x1="367.30" y1="463.12" x2="370.90" y2="463.12" stroke="#808080" stroke-width="0.9"/>
<text x="363.70" y="465.62" font-size="7.7" text-anchor="end" fill="#333" textLength="11.60" lengthAdjust="spacing">0.6</text>
<line x1="367.30" y1="444.36" x2="370.90" y2="444.36" stroke="#808080" stroke-width="0.9"/>
<text x="363.70" y="446.86" font-size="7.7" text-anchor="end" fill="#333" textLength="11.60" lengthAdjust="spacing">0.8</text>
<line x1="367.30" y1="425.60" x2="370.90" y2="425.60" stroke="#808080" stroke-width="0.9"/>
<text x="363.70" y="428.10" font-size="7.7" text-anchor="end" fill="#333" textLength="10.80" lengthAdjust="spacing">1.0</text>
<rect x="385.00" y="428.79" width="14.47" height="90.61" fill="#2db5ad"/>
<rect x="399.42" y="436.76" width="14.47" height="82.64" fill="#fcd03b"/>
<rect x="413.84" y="442.86" width="14.47" height="76.54" fill="#bad6d8"/>
<rect x="428.26" y="430.67" width="14.47" height="88.73" fill="#f7876a"/>
<rect x="461.15" y="436.86" width="14.47" height="82.54" fill="#2db5ad"/>
<rect x="475.57" y="450.55" width="14.47" height="68.85" fill="#fcd03b"/>
<rect x="489.99" y="456.84" width="14.47" height="62.56" fill="#bad6d8"/>
<rect x="504.41" y="444.27" width="14.47" height="75.13" fill="#f7876a"/>
<rect x="537.30" y="427.10" width="14.47" height="92.30" fill="#2db5ad"/>
<rect x="551.72" y="433.85" width="14.47" height="85.55" fill="#fcd03b"/>
<rect x="566.14" y="440.05" width="14.47" height="79.35" fill="#bad6d8"/>
<rect x="580.56" y="427.76" width="14.47" height="91.64" fill="#f7876a"/>
<rect x="613.45" y="439.76" width="14.47" height="79.64" fill="#2db5ad"/>
<rect x="627.87" y="443.70" width="14.47" height="75.70" fill="#fcd03b"/>
<rect x="642.29" y="438.36" width="14.47" height="81.04" fill="#bad6d8"/>
<rect x="656.71" y="449.14" width="14.47" height="70.26" fill="#f7876a"/>
<path d="M390.01,428.00H394.41M392.21,428.00V429.20M390.01,429.20H394.41" stroke="#2a2a2a" stroke-opacity="0.8" stroke-width="0.75" fill="none"/>
<path d="M404.43,431.30H408.83M406.63,431.30V442.40M404.43,442.40H408.83" stroke="#2a2a2a" stroke-opacity="0.8" stroke-width="0.75" fill="none"/>
<path d="M418.85,432.30H423.25M421.05,432.30V454.50M418.85,454.50H423.25" stroke="#2a2a2a" stroke-opacity="0.8" stroke-width="0.75" fill="none"/>
<path d="M433.27,429.80H437.67M435.47,429.80V431.40M433.27,431.40H437.67" stroke="#2a2a2a" stroke-opacity="0.8" stroke-width="0.75" fill="none"/>
<path d="M466.16,434.70H470.56M468.36,434.70V438.90M466.16,438.90H470.56" stroke="#2a2a2a" stroke-opacity="0.8" stroke-width="0.75" fill="none"/>
<path d="M480.58,434.40H484.98M482.78,434.40V471.70M480.58,471.70H484.98" stroke="#2a2a2a" stroke-opacity="0.8" stroke-width="0.75" fill="none"/>
<path d="M495.00,434.40H499.40M497.20,434.40V491.30M495.00,491.30H499.40" stroke="#2a2a2a" stroke-opacity="0.8" stroke-width="0.75" fill="none"/>
<path d="M509.42,441.20H513.82M511.62,441.20V447.50M509.42,447.50H513.82" stroke="#2a2a2a" stroke-opacity="0.8" stroke-width="0.75" fill="none"/>
<path d="M542.31,426.60H546.71M544.51,426.60V427.60M542.31,427.60H546.71" stroke="#2a2a2a" stroke-opacity="0.8" stroke-width="0.75" fill="none"/>
<path d="M556.73,426.30H561.13M558.93,426.30V445.30M556.73,445.30H561.13" stroke="#2a2a2a" stroke-opacity="0.8" stroke-width="0.75" fill="none"/>
<path d="M571.15,429.20H575.55M573.35,429.20V465.40M571.15,465.40H575.55" stroke="#2a2a2a" stroke-opacity="0.8" stroke-width="0.75" fill="none"/>
<path d="M585.57,427.20H589.97M587.77,427.20V428.20M585.57,428.20H589.97" stroke="#2a2a2a" stroke-opacity="0.8" stroke-width="0.75" fill="none"/>
<path d="M618.46,438.50H622.86M620.66,438.50V440.60M618.46,440.60H622.86" stroke="#2a2a2a" stroke-opacity="0.8" stroke-width="0.75" fill="none"/>
<path d="M632.88,437.40H637.28M635.08,437.40V451.40M632.88,451.40H637.28" stroke="#2a2a2a" stroke-opacity="0.8" stroke-width="0.75" fill="none"/>
<path d="M647.30,430.10H651.70M649.50,430.10V456.40M647.30,456.40H651.70" stroke="#2a2a2a" stroke-opacity="0.8" stroke-width="0.75" fill="none"/>
<path d="M661.72,447.50H666.12M663.92,447.50V450.20M661.72,450.20H666.12" stroke="#2a2a2a" stroke-opacity="0.8" stroke-width="0.75" fill="none"/>
<rect x="385.61" y="421.90" width="13.20" height="4.8" fill="#fff"/>
<text x="392.21" y="426.25" font-size="5.5" text-anchor="middle" font-weight="bold" fill="#000" textLength="12.60" lengthAdjust="spacingAndGlyphs" stroke="#000" stroke-width="0.22">0.966</text>
<rect x="400.03" y="425.00" width="13.20" height="4.8" fill="#fff"/>
<text x="406.63" y="429.35" font-size="5.5" text-anchor="middle" font-weight="bold" fill="#000" textLength="12.60" lengthAdjust="spacingAndGlyphs" stroke="#000" stroke-width="0.22">0.881</text>
<rect x="414.45" y="435.20" width="13.20" height="4.8" fill="#fff"/>
<text x="421.05" y="439.55" font-size="5.5" text-anchor="middle" font-weight="bold" fill="#000" textLength="12.60" lengthAdjust="spacingAndGlyphs" stroke="#000" stroke-width="0.22">0.816</text>
<rect x="428.87" y="423.60" width="13.20" height="4.8" fill="#fff"/>
<text x="435.47" y="427.95" font-size="5.5" text-anchor="middle" font-weight="bold" fill="#000" textLength="12.60" lengthAdjust="spacingAndGlyphs" stroke="#000" stroke-width="0.22">0.946</text>
<rect x="461.76" y="428.30" width="13.20" height="4.8" fill="#fff"/>
<text x="468.36" y="432.65" font-size="5.5" text-anchor="middle" font-weight="bold" fill="#000" textLength="12.60" lengthAdjust="spacingAndGlyphs" stroke="#000" stroke-width="0.22">0.880</text>
<rect x="476.18" y="442.60" width="13.20" height="4.8" fill="#fff"/>
<text x="482.78" y="446.95" font-size="5.5" text-anchor="middle" font-weight="bold" fill="#000" textLength="12.60" lengthAdjust="spacingAndGlyphs" stroke="#000" stroke-width="0.22">0.734</text>
<rect x="490.60" y="448.00" width="13.20" height="4.8" fill="#fff"/>
<text x="497.20" y="452.35" font-size="5.5" text-anchor="middle" font-weight="bold" fill="#000" textLength="12.60" lengthAdjust="spacingAndGlyphs" stroke="#000" stroke-width="0.22">0.667</text>
<rect x="505.02" y="434.40" width="13.20" height="4.8" fill="#fff"/>
<text x="511.62" y="438.75" font-size="5.5" text-anchor="middle" font-weight="bold" fill="#000" textLength="12.60" lengthAdjust="spacingAndGlyphs" stroke="#000" stroke-width="0.22">0.801</text>
<rect x="537.91" y="420.40" width="13.20" height="4.8" fill="#fff"/>
<text x="544.51" y="424.75" font-size="5.5" text-anchor="middle" font-weight="bold" fill="#000" textLength="12.60" lengthAdjust="spacingAndGlyphs" stroke="#000" stroke-width="0.22">0.984</text>
<rect x="552.33" y="420.40" width="13.20" height="4.8" fill="#fff"/>
<text x="558.93" y="424.75" font-size="5.5" text-anchor="middle" font-weight="bold" fill="#000" textLength="12.60" lengthAdjust="spacingAndGlyphs" stroke="#000" stroke-width="0.22">0.912</text>
<rect x="566.75" y="432.60" width="13.20" height="4.8" fill="#fff"/>
<text x="573.35" y="436.95" font-size="5.5" text-anchor="middle" font-weight="bold" fill="#000" textLength="12.60" lengthAdjust="spacingAndGlyphs" stroke="#000" stroke-width="0.22">0.846</text>
<rect x="581.17" y="420.40" width="13.20" height="4.8" fill="#fff"/>
<text x="587.77" y="424.75" font-size="5.5" text-anchor="middle" font-weight="bold" fill="#000" textLength="12.60" lengthAdjust="spacingAndGlyphs" stroke="#000" stroke-width="0.22">0.977</text>
<rect x="614.06" y="431.70" width="13.20" height="4.8" fill="#fff"/>
<text x="620.66" y="436.05" font-size="5.5" text-anchor="middle" font-weight="bold" fill="#000" textLength="12.60" lengthAdjust="spacingAndGlyphs" stroke="#000" stroke-width="0.22">0.849</text>
<rect x="628.48" y="431.20" width="13.20" height="4.8" fill="#fff"/>
<text x="635.08" y="435.55" font-size="5.5" text-anchor="middle" font-weight="bold" fill="#000" textLength="12.60" lengthAdjust="spacingAndGlyphs" stroke="#000" stroke-width="0.22">0.807</text>
<rect x="642.90" y="423.30" width="13.20" height="4.8" fill="#fff"/>
<text x="649.50" y="427.65" font-size="5.5" text-anchor="middle" font-weight="bold" fill="#000" textLength="12.60" lengthAdjust="spacingAndGlyphs" stroke="#000" stroke-width="0.22">0.864</text>
<rect x="657.32" y="440.60" width="13.20" height="4.8" fill="#fff"/>
<text x="663.92" y="444.95" font-size="5.5" text-anchor="middle" font-weight="bold" fill="#000" textLength="12.60" lengthAdjust="spacingAndGlyphs" stroke="#000" stroke-width="0.22">0.749</text>
<line x1="367.60" y1="519.50" x2="685.00" y2="519.50" stroke="#929292" stroke-width="1.05"/>
<text x="401.44" y="529.90" font-size="9.2" fill="#231f20" textLength="24.80" lengthAdjust="spacing">Site C</text>
<text x="477.74" y="529.90" font-size="9.2" fill="#231f20" textLength="24.50" lengthAdjust="spacing">Site D</text>
<text x="554.54" y="529.90" font-size="9.2" fill="#231f20" textLength="23.20" lengthAdjust="spacing">Site E</text>
<text x="630.94" y="529.90" font-size="9.2" fill="#231f20" textLength="22.70" lengthAdjust="spacing">Site F</text>
<rect x="575.0" y="470.4" width="86.0" height="46.700000000000045" fill="#f0f0f0" fill-opacity="0.82"/>
<rect x="580.10" y="474.30" width="7.5" height="7" fill="#2db5ad"/>
<text x="592.10" y="480.40" font-size="7.6" fill="#231f20" textLength="62.20" lengthAdjust="spacing">Weighted F1 score</text>
<rect x="580.10" y="484.70" width="7.5" height="7" fill="#fcd03b"/>
<text x="592.10" y="490.80" font-size="7.6" fill="#231f20" textLength="64.00" lengthAdjust="spacing">Balanced accuracy</text>
<rect x="580.10" y="495.10" width="7.5" height="7" fill="#bad6d8"/>
<text x="592.10" y="501.20" font-size="7.6" fill="#231f20" textLength="34.50" lengthAdjust="spacing">Sensitivity</text>
<rect x="580.10" y="505.50" width="7.5" height="7" fill="#f7876a"/>
<text x="592.10" y="511.60" font-size="7.6" fill="#231f20" textLength="35.50" lengthAdjust="spacing">Specificity</text>
<text x="345.70" y="419.30" font-size="12.8" font-weight="bold" fill="#000" stroke="#000" stroke-width="0.6">e</text>
</svg></body></html>
